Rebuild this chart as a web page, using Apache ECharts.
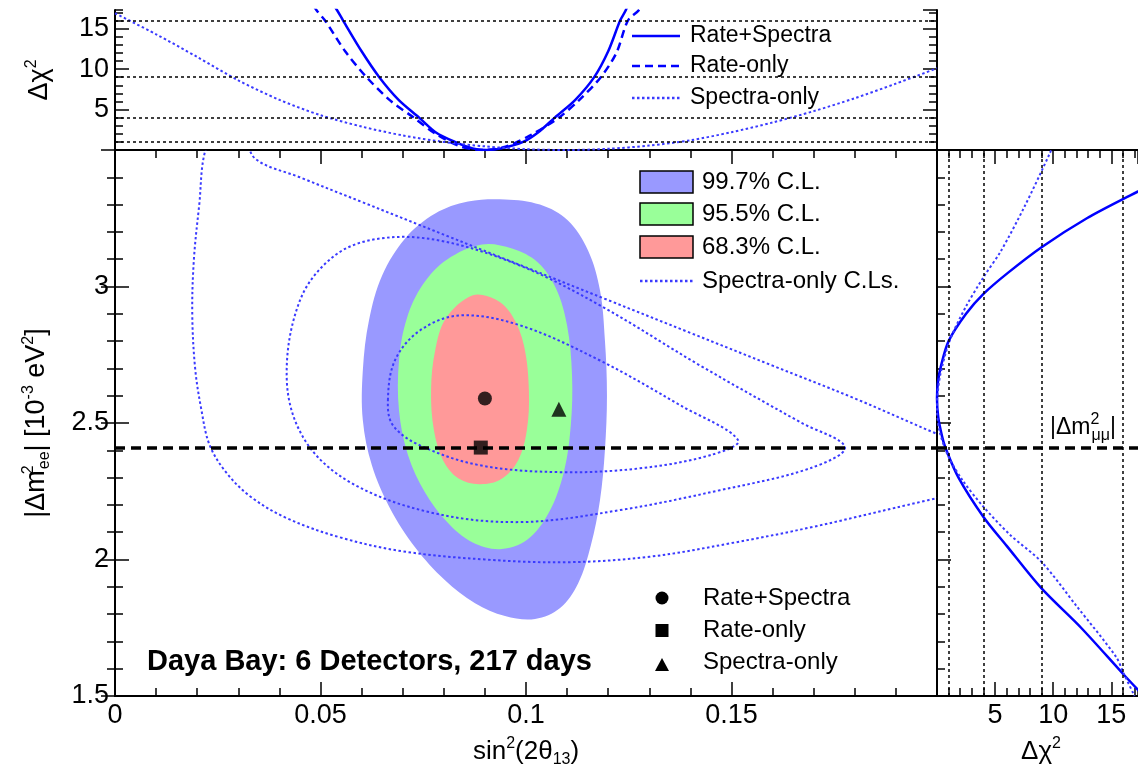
<!DOCTYPE html>
<html>
<head>
<meta charset="utf-8">
<script src="https://cdn.jsdelivr.net/npm/echarts@6/dist/echarts.min.js"></script>
<style>
html, body { margin: 0; padding: 0; background: #fff; }
#chart { width: 1138px; height: 776px; }
</style>
</head>
<body>
<div id="chart"></div>
<script>
// ---------- data ----------
// best-fit points [sin²2θ13, |Δm²ee| (1e-3 eV²)]
const bestRateSpectra = [0.090, 2.59];
const bestRateOnly = [0.089, 2.41];
const bestSpectraOnly = [0.108, 2.55];
// MINOS |Δm²μμ|
const dmMuMu = 2.41;
// Δχ² reference levels
const chi2Levels = [1, 4, 9, 16];

// Rate+Spectra allowed regions [sin²2θ13, |Δm²ee|]
const region997 = [[0.0949,3.319],[0.1034,3.300],[0.1102,3.242],[0.1151,3.132],[0.1180,2.986],[0.1192,2.803],[0.1197,2.601],[0.1192,2.400],[0.1180,2.217],[0.1158,2.053],[0.1127,1.913],[0.1083,1.822],[0.1022,1.782],[0.0949,1.793],[0.0876,1.840],[0.0803,1.924],[0.0730,2.045],[0.0669,2.188],[0.0625,2.345],[0.0603,2.510],[0.0603,2.693],[0.0618,2.876],[0.0650,3.040],[0.0706,3.176],[0.0779,3.267],[0.0859,3.311]];
const region955 = [[0.0893,3.154],[0.0966,3.139],[0.1029,3.088],[0.1073,2.993],[0.1100,2.857],[0.1112,2.675],[0.1109,2.492],[0.1092,2.320],[0.1056,2.173],[0.1002,2.071],[0.0937,2.038],[0.0869,2.063],[0.0808,2.137],[0.0754,2.246],[0.0713,2.382],[0.0691,2.546],[0.0691,2.729],[0.0710,2.883],[0.0749,3.007],[0.0808,3.099]];
const region683 = [[0.0869,2.967],[0.0925,2.953],[0.0966,2.894],[0.0995,2.784],[0.1007,2.620],[0.1002,2.473],[0.0981,2.364],[0.0939,2.294],[0.0886,2.276],[0.0835,2.298],[0.0798,2.364],[0.0776,2.473],[0.0769,2.620],[0.0779,2.766],[0.0805,2.883]];

// Spectra-only contours
const spec683 = [[0.0664,2.583],[0.0681,2.729],[0.0742,2.839],[0.0839,2.894],[0.0985,2.858],[0.1180,2.729],[0.1375,2.565],[0.1516,2.437],[0.1448,2.382],[0.1277,2.334],[0.1083,2.320],[0.0888,2.345],[0.0742,2.418],[0.0676,2.492]];
const spec955 = [[0.0418,2.656],[0.0450,2.949],[0.0535,3.114],[0.0645,3.176],[0.0791,3.168],[0.0985,3.077],[0.1180,2.931],[0.1423,2.711],[0.1667,2.503],[0.1776,2.411],[0.1691,2.334],[0.1472,2.254],[0.1229,2.181],[0.0985,2.137],[0.0766,2.173],[0.0572,2.283],[0.0462,2.437]];
const spec997 = [[0.21,2.26],[0.19,2.19],[0.17,2.12],[0.15,2.06],[0.13,2.01],[0.11,1.99],[0.09,2.00],[0.07,2.03],[0.055,2.08],[0.042,2.15],[0.033,2.23],[0.027,2.32],[0.023,2.42],[0.021,2.55],[0.0195,2.70],[0.0188,2.90],[0.0192,3.10],[0.0205,3.30],[0.022,3.50],[0.026,3.60],[0.031,3.58],[0.034,3.47],[0.045,3.40],[0.060,3.31],[0.080,3.19],[0.100,3.07],[0.120,2.95],[0.140,2.83],[0.160,2.71],[0.180,2.59],[0.200,2.46],[0.210,2.40]];

// Δχ² profiles versus sin²2θ13
const profRateSpectra = [[0.050,20.5],[0.054,17.3],[0.0555,16],[0.060,12.2],[0.0643,9],[0.069,6.2],[0.074,4],[0.078,2.2],[0.0827,1],[0.087,0.2],[0.0905,0],[0.094,0.2],[0.0993,1],[0.103,2.2],[0.107,4],[0.112,6.2],[0.1166,9],[0.120,12.2],[0.1229,16],[0.1243,17.3],[0.126,19.5]];
const profRateOnly = [[0.045,20.5],[0.049,17.3],[0.0511,16],[0.056,12.2],[0.0612,9],[0.067,6.1],[0.0727,4],[0.078,2.0],[0.084,0.45],[0.0895,0],[0.095,0.4],[0.101,1.8],[0.108,4],[0.113,6.2],[0.1182,9],[0.122,12.0],[0.1248,16],[0.1275,17.3],[0.130,19.5]];
const sinGrid = [0,0.01,0.02,0.03,0.04,0.05,0.06,0.07,0.08,0.09,0.10,0.11,0.12,0.13,0.14,0.15,0.16,0.17,0.18,0.19,0.20];
const chi2SpectraOnlySin = [16.9,14.3,11.5,8.6,6.2,4.3,2.9,1.8,1.0,0.45,0.1,0.0,0.15,0.55,1.2,2.2,3.4,4.8,6.4,8.2,10.1];

// Δχ² profiles versus |Δm²ee|  [Δχ², |Δm²ee|]
const profDmRateSpectra = [[19.8,3.40],[16.6,3.333],[12.9,3.25],[9.0,3.144],[6.1,3.05],[4.0,2.973],[2.5,2.90],[1.0,2.80],[0.35,2.71],[0.08,2.65],[0,2.59],[0.11,2.52],[0.44,2.45],[0.72,2.41],[1.85,2.30],[4.0,2.156],[6.0,2.05],[9.0,1.894],[12.4,1.75],[16.1,1.577],[17.8,1.50]];
const profDmSpectraOnly = [[10.3,3.55],[9.7,3.487],[7.5,3.29],[5.5,3.13],[4.0,3.034],[2.47,2.925],[1.08,2.80],[0.3,2.68],[0.04,2.60],[0,2.55],[0.22,2.47],[0.95,2.38],[2.2,2.29],[4.0,2.193],[6.3,2.09],[9.0,1.991],[12.0,1.83],[15.4,1.644],[16.1,1.58],[17.0,1.50]];

// ---------- styling ----------
const FONT = '"Liberation Sans", Arial, sans-serif';
const BLUE = '#0000ff';
const DOT_BLUE = '#3a3aff';
const FILL997 = '#9999ff', FILL955 = '#99ff99', FILL683 = '#ff9999';

const frame = { show: true, lineStyle: { color: '#000', width: 2 } };
const noLine = { show: false };
function ticks(len) { return { show: true, inside: true, length: len, lineStyle: { color: '#000', width: 1.5 } }; }
function minor(len) { return { show: true, splitNumber: 5, length: len, lineStyle: { color: '#000', width: 1.5 } }; }
const label = { show: true, color: '#000', fontFamily: FONT, fontSize: 27, margin: 6 };
function axis(o) {
  return Object.assign({ type: 'value', splitLine: { show: false }, axisLine: frame,
    axisTick: { show: false }, minorTick: { show: false }, axisLabel: { show: false } }, o);
}

// contour drawn as smooth path through the library's coordinate mapping
function contour(points, closed, style, z) {
  return {
    type: 'custom', xAxisIndex: 0, yAxisIndex: 0, data: points, clip: true, z: z, silent: true,
    renderItem(params, api) {
      if (params.dataIndex !== 0) return null;
      const pts = points.map(p => api.coord(p));
      return {
        type: closed ? 'polygon' : 'polyline',
        shape: { points: pts, smooth: 0.35 },
        style: style
      };
    }
  };
}
const dotStyle = { fill: null, stroke: DOT_BLUE, lineWidth: 2, lineDash: [2.5, 2.5] };

// superscript drawn with a narrow advance so the following subscript stacks beneath it
const supStack = { fontFamily: FONT, fontSize: 16, verticalAlign: 'top', lineHeight: 16, fill: '#000', width: 1 };
const supTxt = { fontFamily: FONT, fontSize: 16, verticalAlign: 'top', lineHeight: 16, fill: '#000' };
const subTxt = { fontFamily: FONT, fontSize: 16, verticalAlign: 'bottom', lineHeight: 16, fill: '#000' };
function richBase(size) { return { fontFamily: FONT, fontSize: size, lineHeight: 32, fill: '#000' }; }

const dashedRef = { silent: true, symbol: 'none', label: { show: false },
  lineStyle: { color: '#000', width: 3.5, type: [10, 6] }, data: [{ yAxis: dmMuMu }] };

const option = {
  animation: false,
  backgroundColor: '#fff',
  grid: [
    { left: 115, top: 150, width: 822, height: 546 },   // contour plane
    { left: 115, top: 10, width: 822, height: 140 },    // Δχ² vs sin²2θ13
    { left: 937, top: 150, width: 208, height: 546 }    // Δχ² vs |Δm²ee|
  ],
  xAxis: [
    axis({ gridIndex: 0, position: 'bottom', min: 0, max: 0.2, interval: 0.05, axisTick: ticks(14), minorTick: minor(8),
      axisLabel: Object.assign({}, label, { showMaxLabel: false }) }),
    axis({ gridIndex: 0, position: 'top', min: 0, max: 0.2, interval: 0.05, axisTick: ticks(14), minorTick: minor(8) }),
    axis({ gridIndex: 1, position: 'bottom', min: 0, max: 0.2 }),
    axis({ gridIndex: 1, position: 'top', min: 0, max: 0.2 }),
    axis({ gridIndex: 2, position: 'bottom', min: 0, max: 17.3, interval: 5, axisTick: ticks(14),
      axisLabel: Object.assign({}, label, { showMinLabel: false, showMaxLabel: false }) }),
    axis({ gridIndex: 2, position: 'bottom', min: 0, max: 17.3, interval: 1, axisLine: noLine, axisTick: ticks(8) }),
    axis({ gridIndex: 2, position: 'top', min: 0, max: 17.3, interval: 5, axisTick: ticks(14) }),
    axis({ gridIndex: 2, position: 'top', min: 0, max: 17.3, interval: 1, axisLine: noLine, axisTick: ticks(8) })
  ],
  yAxis: [
    axis({ gridIndex: 0, position: 'left', min: 1.5, max: 3.5, interval: 0.5, axisTick: ticks(14), minorTick: minor(8),
      axisLabel: Object.assign({}, label, { showMaxLabel: false }) }),
    axis({ gridIndex: 0, position: 'right', min: 1.5, max: 3.5, interval: 0.5, axisTick: ticks(14), minorTick: minor(8) }),
    axis({ gridIndex: 1, position: 'left', min: 0, max: 17.3, interval: 5, axisTick: ticks(14),
      axisLabel: Object.assign({}, label, { showMinLabel: false, showMaxLabel: false }) }),
    axis({ gridIndex: 1, position: 'left', min: 0, max: 17.3, interval: 1, axisLine: noLine, axisTick: ticks(8) }),
    axis({ gridIndex: 1, position: 'right', min: 0, max: 17.3, interval: 5, axisTick: ticks(14) }),
    axis({ gridIndex: 1, position: 'right', min: 0, max: 17.3, interval: 1, axisLine: noLine, axisTick: ticks(8) }),
    axis({ gridIndex: 2, position: 'left', min: 1.5, max: 3.5, interval: 0.5, axisTick: ticks(14), minorTick: minor(8) }),
    axis({ gridIndex: 2, position: 'right', min: 1.5, max: 3.5, show: false })
  ],
  series: [
    // filled Rate+Spectra regions
    contour(region997, true, { fill: FILL997 }, 1),
    contour(region955, true, { fill: FILL955 }, 2),
    contour(region683, true, { fill: FILL683 }, 3),
    // Spectra-only contours
    contour(spec997, false, dotStyle, 4),
    contour(spec955, true, dotStyle, 4),
    contour(spec683, true, dotStyle, 4),
    // best-fit points
    { type: 'scatter', xAxisIndex: 0, yAxisIndex: 0, z: 6, symbol: 'circle', symbolSize: 14,
      itemStyle: { color: '#000' }, data: [bestRateSpectra], markLine: dashedRef },
    { type: 'scatter', xAxisIndex: 0, yAxisIndex: 0, z: 6, symbol: 'rect', symbolSize: 14,
      itemStyle: { color: '#000' }, data: [bestRateOnly] },
    { type: 'scatter', xAxisIndex: 0, yAxisIndex: 0, z: 6, symbol: 'triangle', symbolSize: 15,
      itemStyle: { color: '#000' }, data: [bestSpectraOnly] },
    // Δχ² vs sin²2θ13
    { type: 'line', xAxisIndex: 2, yAxisIndex: 2, smooth: 0.3, showSymbol: false, z: 3,
      lineStyle: { color: BLUE, width: 2.5 }, data: profRateSpectra,
      markLine: { silent: true, symbol: 'none', label: { show: false },
        lineStyle: { color: '#000', width: 1.5, type: [3, 3] }, data: chi2Levels.map(v => ({ yAxis: v })) } },
    { type: 'line', xAxisIndex: 2, yAxisIndex: 2, smooth: 0.3, showSymbol: false, z: 3,
      lineStyle: { color: BLUE, width: 2.5, type: [8, 5] }, data: profRateOnly },
    { type: 'line', xAxisIndex: 2, yAxisIndex: 2, smooth: 0.3, showSymbol: false, z: 3,
      lineStyle: { color: DOT_BLUE, width: 2, type: [2.5, 2.5] },
      data: sinGrid.map((s, i) => [s, chi2SpectraOnlySin[i]]) },
    // Δχ² vs |Δm²ee|
    { type: 'line', xAxisIndex: 4, yAxisIndex: 6, smooth: 0.3, showSymbol: false, z: 3,
      lineStyle: { color: BLUE, width: 2.5 }, data: profDmRateSpectra,
      markLine: { silent: true, symbol: 'none', label: { show: false },
        lineStyle: { color: '#000', width: 1.5, type: [3, 3] }, data: chi2Levels.map(v => ({ xAxis: v })) } },
    { type: 'line', xAxisIndex: 4, yAxisIndex: 6, smooth: 0.3, showSymbol: false, z: 3,
      lineStyle: { color: DOT_BLUE, width: 2, type: [2.5, 2.5] }, data: profDmSpectraOnly,
      markLine: dashedRef }
  ],
  graphic: [
    // axis titles
    { type: 'text', x: 37, y: 423, rotation: Math.PI / 2, z: 10,
      style: { text: '{n||Δm}{sups|2}{sub|ee}{n|| [10}{sup|-3}{n| eV}{sup|2}{n|]}', align: 'center', verticalAlign: 'middle',
        rich: { n: richBase(27), sup: supTxt, sups: supStack, sub: subTxt } } },
    { type: 'text', x: 40, y: 80, rotation: Math.PI / 2, z: 10,
      style: { text: '{n|Δχ}{sup|2}', align: 'center', verticalAlign: 'middle',
        rich: { n: richBase(27), sup: supTxt } } },
    { type: 'text', x: 526, y: 752, z: 10,
      style: { text: '{n|sin}{sup|2}{n|(2θ}{sub|13}{n|)}', align: 'center', verticalAlign: 'middle',
        rich: { n: richBase(26), sup: supTxt, sub: subTxt } } },
    { type: 'text', x: 1041, y: 752, z: 10,
      style: { text: '{n|Δχ}{sup|2}', align: 'center', verticalAlign: 'middle',
        rich: { n: richBase(26), sup: supTxt } } },
    { type: 'text', x: 1050, y: 428, z: 10,
      style: { text: '{n||Δm}{sups|2}{sub|μμ}{n||}', align: 'left', verticalAlign: 'middle',
        rich: { n: richBase(23), sups: supStack, sub: subTxt } } },
    // experiment label
    { type: 'text', x: 147, y: 662, z: 10,
      style: { text: 'Daya Bay: 6 Detectors, 217 days', font: 'bold 29px ' + FONT, fill: '#000',
        align: 'left', verticalAlign: 'middle' } },
    // Δχ² profile legend
    { type: 'line', z: 10, shape: { x1: 632, y1: 36, x2: 680, y2: 36 }, style: { stroke: BLUE, lineWidth: 2.5 } },
    { type: 'line', z: 10, shape: { x1: 632, y1: 66, x2: 680, y2: 66 }, style: { stroke: BLUE, lineWidth: 2.5, lineDash: [8, 5] } },
    { type: 'line', z: 10, shape: { x1: 632, y1: 98, x2: 680, y2: 98 }, style: { stroke: DOT_BLUE, lineWidth: 2.5, lineDash: [2.5, 2.5] } },
    { type: 'text', x: 690, y: 36, z: 10, style: { text: 'Rate+Spectra', font: '23px ' + FONT, fill: '#000', verticalAlign: 'middle' } },
    { type: 'text', x: 690, y: 66, z: 10, style: { text: 'Rate-only', font: '23px ' + FONT, fill: '#000', verticalAlign: 'middle' } },
    { type: 'text', x: 690, y: 98, z: 10, style: { text: 'Spectra-only', font: '23px ' + FONT, fill: '#000', verticalAlign: 'middle' } },
    // confidence level legend
    { type: 'rect', z: 10, shape: { x: 640, y: 171, width: 53, height: 22 }, style: { fill: FILL997, stroke: '#000', lineWidth: 1.5 } },
    { type: 'rect', z: 10, shape: { x: 640, y: 203, width: 53, height: 22 }, style: { fill: FILL955, stroke: '#000', lineWidth: 1.5 } },
    { type: 'rect', z: 10, shape: { x: 640, y: 236, width: 53, height: 22 }, style: { fill: FILL683, stroke: '#000', lineWidth: 1.5 } },
    { type: 'line', z: 10, shape: { x1: 640, y1: 281, x2: 693, y2: 281 }, style: { stroke: DOT_BLUE, lineWidth: 2.5, lineDash: [2.5, 2.5] } },
    { type: 'text', x: 702, y: 182, z: 10, style: { text: '99.7% C.L.', font: '24px ' + FONT, fill: '#000', verticalAlign: 'middle' } },
    { type: 'text', x: 702, y: 214, z: 10, style: { text: '95.5% C.L.', font: '24px ' + FONT, fill: '#000', verticalAlign: 'middle' } },
    { type: 'text', x: 702, y: 247, z: 10, style: { text: '68.3% C.L.', font: '24px ' + FONT, fill: '#000', verticalAlign: 'middle' } },
    { type: 'text', x: 702, y: 281, z: 10, style: { text: 'Spectra-only C.Ls.', font: '24px ' + FONT, fill: '#000', verticalAlign: 'middle' } },
    // best-fit legend
    { type: 'circle', z: 10, shape: { cx: 662, cy: 598, r: 6.5 }, style: { fill: '#000' } },
    { type: 'rect', z: 10, shape: { x: 655.5, y: 624, width: 13, height: 13 }, style: { fill: '#000' } },
    { type: 'polygon', z: 10, shape: { points: [[662, 658], [655, 671], [669, 671]] }, style: { fill: '#000' } },
    { type: 'text', x: 703, y: 598, z: 10, style: { text: 'Rate+Spectra', font: '24px ' + FONT, fill: '#000', verticalAlign: 'middle' } },
    { type: 'text', x: 703, y: 630, z: 10, style: { text: 'Rate-only', font: '24px ' + FONT, fill: '#000', verticalAlign: 'middle' } },
    { type: 'text', x: 703, y: 662, z: 10, style: { text: 'Spectra-only', font: '24px ' + FONT, fill: '#000', verticalAlign: 'middle' } }
  ]
};

const chart = echarts.init(document.getElementById('chart'));
chart.setOption(option);
</script>
</body>
</html>
